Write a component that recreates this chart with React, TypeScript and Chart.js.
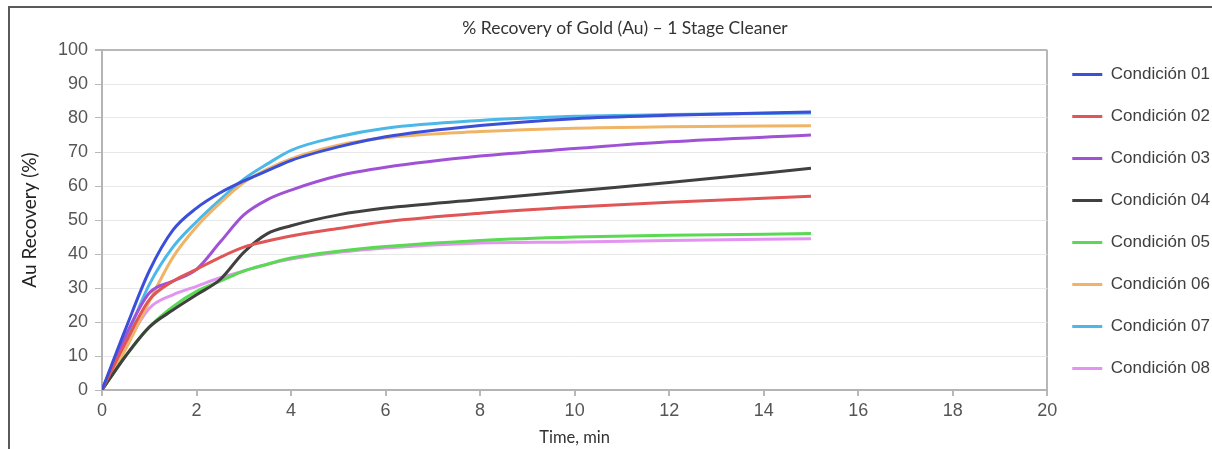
import React, { useEffect, useRef } from "react";
import { Chart, registerables } from "chart.js";

Chart.register(...registerables);

const TITLE = "% Recovery of Gold (Au) – 1 Stage Cleaner";
const X_TITLE = "Time, min";
const Y_TITLE = "Au Recovery (%)";

const times = [0, 0.5, 1, 1.5, 2, 2.5, 3, 3.5, 4, 5, 6, 8, 10, 12, 15];

const cond01 = [0, 18, 35, 47, 53.5, 58, 61.5, 64.5, 67.5, 71.5, 74.5, 77.8, 79.8, 80.8, 81.8];
const cond02 = [0, 14, 26.5, 32, 35.5, 39, 42, 43.8, 45.3, 47.5, 49.5, 52, 53.8, 55.2, 57];
const cond03 = [0, 16, 28.5, 32, 35.5, 43.5, 51.5, 56, 58.8, 63, 65.5, 68.8, 71, 73, 75];
const cond04 = [0, 10, 18.5, 23.5, 28, 32.5, 40.5, 46, 48.3, 51.5, 53.5, 56, 58.5, 61, 65.2];
const cond05 = [0, 10, 18.5, 24.5, 29, 32, 35, 37, 38.8, 40.8, 42.2, 44, 45, 45.5, 46];
const cond06 = [0, 12, 26, 39, 48, 55, 61, 65, 68, 72, 74.2, 76, 77, 77.4, 77.7];
const cond07 = [0, 15, 31, 42, 49.5, 56, 62, 66.5, 70.5, 74.5, 77, 79.3, 80.5, 81, 81.5];
const cond08 = [0, 13, 24, 28, 30.5, 33, 35, 37, 38.5, 40.5, 41.8, 43.2, 43.5, 44, 44.5];

const seriesNames = [
  "Condición 01",
  "Condición 02",
  "Condición 03",
  "Condición 04",
  "Condición 05",
  "Condición 06",
  "Condición 07",
  "Condición 08",
];
const seriesValues = [cond01, cond02, cond03, cond04, cond05, cond06, cond07, cond08];
const seriesColors = [
  "#3c4fd9",
  "#e05555",
  "#a052d6",
  "#404040",
  "#5ada52",
  "#f0b466",
  "#4cb8e8",
  "#e294f0",
];

const xTicks = [0, 2, 4, 6, 8, 10, 12, 14, 16, 18, 20];
const yTicks = [0, 10, 20, 30, 40, 50, 60, 70, 80, 90, 100];

const SANS = "'Liberation Sans', Arial, sans-serif";
const HUMAN = "Lato, 'Open Sans', sans-serif";

const layoutTweaks = {
  id: "layoutTweaks",
  afterLayout(chart: any) {
    const tb = chart.titleBlock;
    if (tb) {
      tb.left += 30;
    }
    const lg = chart.legend;
    if (lg) {
      lg.top -= 3;
      lg.bottom -= 3;
    }
  },
};

export default function App() {
  const canvasRef = useRef<HTMLCanvasElement | null>(null);

  useEffect(() => {
    const canvas = canvasRef.current;
    if (!canvas) return;
    const datasets = seriesNames.map((name, i) => ({
      label: name,
      data: times.map((t, j) => ({ x: t, y: seriesValues[i][j] })),
      borderColor: seriesColors[i],
      backgroundColor: seriesColors[i],
      borderWidth: 3,
      pointRadius: 0,
      fill: false,
      cubicInterpolationMode: "monotone" as const,
    }));

    const chart = new Chart(canvas, {
      type: "line",
      data: { datasets },
      plugins: [layoutTweaks],
      options: {
        responsive: false,
        animation: false,
        layout: { padding: { left: 0, right: -8, top: 0, bottom: 0 } },
        plugins: {
          title: {
            display: true,
            text: TITLE,
            color: "#333333",
            font: { family: HUMAN, size: 17.5, weight: "normal" },
            padding: { top: 17.5, bottom: 11.5 },
          },
          legend: {
            position: "right",
            labels: {
              usePointStyle: true,
              pointStyle: "line",
              pointStyleWidth: 30,
              padding: 25,
              color: "#404040",
              font: { family: SANS, size: 17 },
            },
          },
          tooltip: { enabled: false },
        },
        scales: {
          x: {
            type: "linear",
            min: 0,
            max: 20,
            afterBuildTicks: (s: any) => {
              s.ticks = xTicks.map((v) => ({ value: v }));
            },
            afterFit: (s: any) => {
              s.height = 59;
            },
            ticks: {
              padding: 4,
              color: "#555555",
              font: { family: SANS, size: 18 },
              maxRotation: 0,
            },
            grid: {
              color: (c: any) => (c.tick && c.tick.value === 20 ? "#b8b8b8" : "rgba(0,0,0,0)"),
              lineWidth: 2,
              tickColor: "#b8b8b8",
              tickLength: 6,
            },
            border: { display: true, color: "#b4b4b4", width: 2 },
            title: {
              display: true,
              text: X_TITLE,
              color: "#333333",
              font: { family: HUMAN, size: 16.5 },
              padding: { top: 0, bottom: 1 },
            },
          },
          y: {
            type: "linear",
            min: 0,
            max: 100,
            afterBuildTicks: (s: any) => {
              s.ticks = yTicks.map((v) => ({ value: v }));
            },
            afterFit: (s: any) => {
              s.width = 102;
            },
            ticks: {
              padding: 7,
              color: "#555555",
              font: { family: SANS, size: 18 },
            },
            grid: {
              color: (c: any) => (c.tick && c.tick.value === 100 ? "#b8b8b8" : "#e8e8e8"),
              lineWidth: (c: any) => (c.tick && c.tick.value === 100 ? 2 : 1),
              tickColor: "#b8b8b8",
              tickLength: 7,
            },
            border: { display: true, color: "#b4b4b4", width: 2 },
            title: {
              display: true,
              text: Y_TITLE,
              color: "#222222",
              font: { family: HUMAN, size: 19 },
              padding: { top: 18.5, bottom: 0 },
            },
          },
        },
      },
    });
    return () => chart.destroy();
  }, []);

  return (
    <div
      style={{
        position: "fixed",
        left: 0,
        top: 0,
        width: 1212,
        height: 449,
        background: "#ffffff",
        overflow: "hidden",
      }}
    >
      <div
        style={{
          position: "absolute",
          left: 8,
          top: 6,
          width: 1300,
          height: 500,
          borderTop: "2px solid #5a5a5a",
          borderLeft: "2px solid #5a5a5a",
        }}
      />
      <canvas
        ref={canvasRef}
        width={1212}
        height={449}
        style={{ position: "absolute", left: 0, top: 0, width: 1212, height: 449 }}
      />
    </div>
  );
}
